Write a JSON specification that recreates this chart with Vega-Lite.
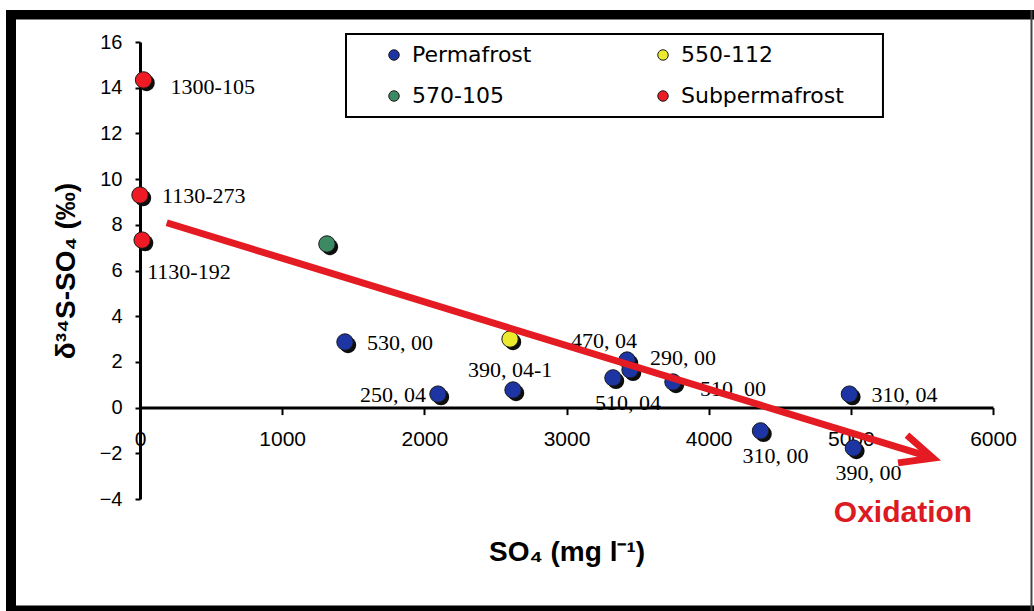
{
  "$schema": "https://vega.github.io/schema/vega-lite/v6.json",
  "width": 853,
  "height": 457,
  "padding": {"left": 6, "top": 10, "right": 0, "bottom": 0},
  "background": "white",
  "config": {
    "view": {"stroke": null},
    "font": "Liberation Sans",
    "legend": {
      "orient": "none",
      "legendX": 206,
      "legendY": -8,
      "columns": 2,
      "symbolType": "circle",
      "symbolSize": 110,
      "symbolStrokeColor": "#1a1a1a",
      "symbolStrokeWidth": 1,
      "symbolOffset": 27,
      "labelFont": "DejaVu Sans",
      "labelFontSize": 22,
      "labelColor": "black",
      "labelOffset": 7,
      "labelLimit": 400,
      "columnPadding": 93,
      "rowPadding": 19,
      "padding": 10
    }
  },
  "datasets": {
    "samples": [
      {"so4": 25, "d34s": 14.34, "group": "Subpermafrost", "label": "1300-105"},
      {"so4": 0, "d34s": 9.3, "group": "Subpermafrost", "label": "1130-273"},
      {"so4": 15, "d34s": 7.33, "group": "Subpermafrost", "label": "1130-192"},
      {"so4": 1315, "d34s": 7.16, "group": "570-105", "label": ""},
      {"so4": 2603, "d34s": 3.0, "group": "550-112", "label": ""},
      {"so4": 1442, "d34s": 2.87, "group": "Permafrost", "label": "530, 00"},
      {"so4": 2096, "d34s": 0.59, "group": "Permafrost", "label": "250, 04"},
      {"so4": 2624, "d34s": 0.77, "group": "Permafrost", "label": "390, 04-1"},
      {"so4": 3426, "d34s": 2.08, "group": "Permafrost", "label": "470, 04"},
      {"so4": 3327, "d34s": 1.3, "group": "Permafrost", "label": "510, 04"},
      {"so4": 3447, "d34s": 1.65, "group": "Permafrost", "label": "290, 00"},
      {"so4": 3749, "d34s": 1.12, "group": "Permafrost", "label": "510, 00"},
      {"so4": 4365, "d34s": -1.02, "group": "Permafrost", "label": "310, 00"},
      {"so4": 4990, "d34s": 0.59, "group": "Permafrost", "label": "310, 04"},
      {"so4": 5018, "d34s": -1.77, "group": "Permafrost", "label": "390, 00"}
    ],
    "trend": [
      {"so4": 188, "d34s": 8.09, "part": "shaft", "seq": 1},
      {"so4": 5524, "d34s": -2.105, "part": "shaft", "seq": 2},
      {"so4": 5395, "d34s": -1.2, "part": "head", "seq": 1},
      {"so4": 5578, "d34s": -2.21, "part": "head", "seq": 2},
      {"so4": 5332, "d34s": -2.42, "part": "head", "seq": 3}
    ]
  },
  "layer": [
    {
      "data": {"values": [{}]},
      "mark": {"type": "rect", "color": "black"},
      "encoding": {
        "x": {"datum": -942.5, "type": "quantitative", "scale": {"domain": [0, 6000]}},
        "x2": {"datum": 6288.2},
        "y": {"datum": 17.4, "type": "quantitative", "scale": {"domain": [-4, 16]}},
        "y2": {"datum": 16.985}
      }
    },
    {
      "data": {"values": [{}]},
      "mark": {"type": "rect", "color": "black"},
      "encoding": {
        "x": {"datum": -942.5, "type": "quantitative", "scale": {"domain": [0, 6000]}},
        "x2": {"datum": -872.2},
        "y": {"datum": 17.4, "type": "quantitative", "scale": {"domain": [-4, 16]}},
        "y2": {"datum": -8.902}
      }
    },
    {
      "data": {"values": [{}]},
      "mark": {"type": "rect", "color": "black"},
      "encoding": {
        "x": {"datum": -942.5, "type": "quantitative", "scale": {"domain": [0, 6000]}},
        "x2": {"datum": 6288.2},
        "y": {"datum": -8.661, "type": "quantitative", "scale": {"domain": [-4, 16]}},
        "y2": {"datum": -8.902}
      }
    },
    {
      "data": {"values": [{}]},
      "mark": {"type": "rect", "color": "#444444"},
      "encoding": {
        "x": {"datum": 6263.6, "type": "quantitative", "scale": {"domain": [0, 6000]}},
        "x2": {"datum": 6277.7},
        "y": {"datum": 17.4, "type": "quantitative", "scale": {"domain": [-4, 16]}},
        "y2": {"datum": -8.902}
      }
    },
    {
      "data": {"values": [{}]},
      "mark": {"type": "rect", "fill": "white", "stroke": "black", "strokeWidth": 2},
      "encoding": {
        "x": {"datum": 1449, "type": "quantitative", "scale": {"domain": [0, 6000]}},
        "x2": {"datum": 5226},
        "y": {"datum": 16.35, "type": "quantitative", "scale": {"domain": [-4, 16]}},
        "y2": {"datum": 12.72}
      }
    },
    {
      "data": {"name": "samples"},
      "transform": [{"filter": "datum.label == '1130-273' || datum.label == '530, 00' || datum.label == '310, 04'"}],
      "mark": {"type": "text", "align": "left", "baseline": "middle", "dx": 22, "dy": 1, "font": "Liberation Serif", "fontSize": 22, "color": "black"},
      "encoding": {
        "x": {"field": "so4", "type": "quantitative", "scale": {"domain": [0, 6000]}},
        "y": {"field": "d34s", "type": "quantitative", "scale": {"domain": [-4, 16]}},
        "text": {"field": "label"}
      }
    },
    {
      "data": {"name": "samples"},
      "transform": [{"filter": "datum.label == '1300-105' || datum.label == '510, 00'"}],
      "mark": {"type": "text", "align": "left", "baseline": "middle", "dx": 27, "dy": 7, "font": "Liberation Serif", "fontSize": 22, "color": "black"},
      "encoding": {
        "x": {"field": "so4", "type": "quantitative", "scale": {"domain": [0, 6000]}},
        "y": {"field": "d34s", "type": "quantitative", "scale": {"domain": [-4, 16]}},
        "text": {"field": "label"}
      }
    },
    {
      "data": {"name": "samples"},
      "transform": [{"filter": "datum.label == '290, 00'"}],
      "mark": {"type": "text", "align": "left", "baseline": "middle", "dx": 20, "dy": -12, "font": "Liberation Serif", "fontSize": 22, "color": "black"},
      "encoding": {
        "x": {"field": "so4", "type": "quantitative", "scale": {"domain": [0, 6000]}},
        "y": {"field": "d34s", "type": "quantitative", "scale": {"domain": [-4, 16]}},
        "text": {"field": "label"}
      }
    },
    {
      "data": {"name": "samples"},
      "transform": [{"filter": "datum.label == '510, 04' || datum.label == '310, 00' || datum.label == '390, 00'"}],
      "mark": {"type": "text", "align": "center", "baseline": "middle", "dx": 15, "dy": 25, "font": "Liberation Serif", "fontSize": 22, "color": "black"},
      "encoding": {
        "x": {"field": "so4", "type": "quantitative", "scale": {"domain": [0, 6000]}},
        "y": {"field": "d34s", "type": "quantitative", "scale": {"domain": [-4, 16]}},
        "text": {"field": "label"}
      }
    },
    {
      "data": {"name": "samples"},
      "transform": [{"filter": "datum.label == '1130-192'"}],
      "mark": {"type": "text", "align": "left", "baseline": "middle", "dx": 5, "dy": 32, "font": "Liberation Serif", "fontSize": 22, "color": "black"},
      "encoding": {
        "x": {"field": "so4", "type": "quantitative", "scale": {"domain": [0, 6000]}},
        "y": {"field": "d34s", "type": "quantitative", "scale": {"domain": [-4, 16]}},
        "text": {"field": "label"}
      }
    },
    {
      "data": {"name": "samples"},
      "transform": [{"filter": "datum.label == '250, 04'"}],
      "mark": {"type": "text", "align": "right", "baseline": "middle", "dx": -12, "dy": 1, "font": "Liberation Serif", "fontSize": 22, "color": "black"},
      "encoding": {
        "x": {"field": "so4", "type": "quantitative", "scale": {"domain": [0, 6000]}},
        "y": {"field": "d34s", "type": "quantitative", "scale": {"domain": [-4, 16]}},
        "text": {"field": "label"}
      }
    },
    {
      "data": {"name": "samples"},
      "transform": [{"filter": "datum.label == '390, 04-1'"}],
      "mark": {"type": "text", "align": "center", "baseline": "middle", "dx": -3, "dy": -20, "font": "Liberation Serif", "fontSize": 22, "color": "black"},
      "encoding": {
        "x": {"field": "so4", "type": "quantitative", "scale": {"domain": [0, 6000]}},
        "y": {"field": "d34s", "type": "quantitative", "scale": {"domain": [-4, 16]}},
        "text": {"field": "label"}
      }
    },
    {
      "data": {"name": "samples"},
      "transform": [{"filter": "datum.label == '470, 04'"}],
      "mark": {"type": "text", "align": "right", "baseline": "middle", "dx": 10, "dy": -19, "font": "Liberation Serif", "fontSize": 22, "color": "black"},
      "encoding": {
        "x": {"field": "so4", "type": "quantitative", "scale": {"domain": [0, 6000]}},
        "y": {"field": "d34s", "type": "quantitative", "scale": {"domain": [-4, 16]}},
        "text": {"field": "label"}
      }
    },
    {
      "data": {"name": "samples"},
      "mark": {"type": "point", "filled": true, "shape": "circle", "size": 270, "color": "#0d0d0d", "opacity": 1, "xOffset": 3, "yOffset": 3},
      "encoding": {
        "x": {"field": "so4", "type": "quantitative", "scale": {"domain": [0, 6000]}},
        "y": {"field": "d34s", "type": "quantitative", "scale": {"domain": [-4, 16]}}
      }
    },
    {
      "data": {"name": "samples"},
      "mark": {"type": "point", "filled": true, "shape": "circle", "size": 270, "opacity": 1, "stroke": "#1a1a1a", "strokeWidth": 1},
      "encoding": {
        "x": {
          "field": "so4", "type": "quantitative",
          "scale": {"domain": [0, 6000]},
          "axis": {
            "title": "SO₄ (mg l⁻¹)",
            "titleFont": "Liberation Sans", "titleFontSize": 28, "titleFontWeight": "bold", "titleColor": "black",
            "titlePadding": 89,
            "offset": -91.4,
            "values": [0, 1000, 2000, 3000, 4000, 5000, 6000],
            "format": "d",
            "grid": false,
            "domainColor": "black", "domainWidth": 3,
            "tickColor": "black", "tickWidth": 2, "tickSize": 7,
            "labelFont": "Liberation Sans", "labelFontSize": 21, "labelColor": "black",
            "labelPadding": 14, "labelFlush": false, "labelOverlap": false
          }
        },
        "y": {
          "field": "d34s", "type": "quantitative",
          "scale": {"domain": [-4, 16]},
          "axis": {
            "title": "δ³⁴S-SO₄ (‰)",
            "titleFont": "Liberation Sans", "titleFontSize": 28, "titleFontWeight": "bold", "titleColor": "black",
            "titlePadding": 19,
            "values": [-4, -2, 0, 2, 4, 6, 8, 10, 12, 14, 16],
            "format": "d",
            "grid": false,
            "domainColor": "black", "domainWidth": 3,
            "tickColor": "black", "tickWidth": 2, "tickSize": 5,
            "labelFont": "Liberation Sans", "labelFontSize": 20, "labelColor": "black",
            "labelPadding": 13, "labelOverlap": false
          }
        },
        "color": {
          "field": "group", "type": "nominal",
          "scale": {
            "domain": ["Permafrost", "570-105", "550-112", "Subpermafrost"],
            "range": ["#1c35a3", "#3b8a63", "#ecea2c", "#ee1b24"]
          },
          "legend": {"title": null}
        }
      }
    },
    {
      "data": {"name": "trend"},
      "mark": {"type": "line", "color": "#e41b22", "strokeWidth": 7, "strokeCap": "butt", "strokeJoin": "miter"},
      "encoding": {
        "x": {"field": "so4", "type": "quantitative", "scale": {"domain": [0, 6000]}},
        "y": {"field": "d34s", "type": "quantitative", "scale": {"domain": [-4, 16]}},
        "detail": {"field": "part"},
        "order": {"field": "seq"}
      }
    },
    {
      "data": {"values": [{}]},
      "mark": {"type": "text", "text": "Oxidation", "align": "center", "baseline": "alphabetic", "font": "Liberation Sans", "fontWeight": "bold", "fontSize": 30, "color": "#dc1a22"},
      "encoding": {
        "x": {"datum": 5367, "type": "quantitative", "scale": {"domain": [0, 6000]}},
        "y": {"datum": -5.01, "type": "quantitative", "scale": {"domain": [-4, 16]}}
      }
    }
  ]
}
